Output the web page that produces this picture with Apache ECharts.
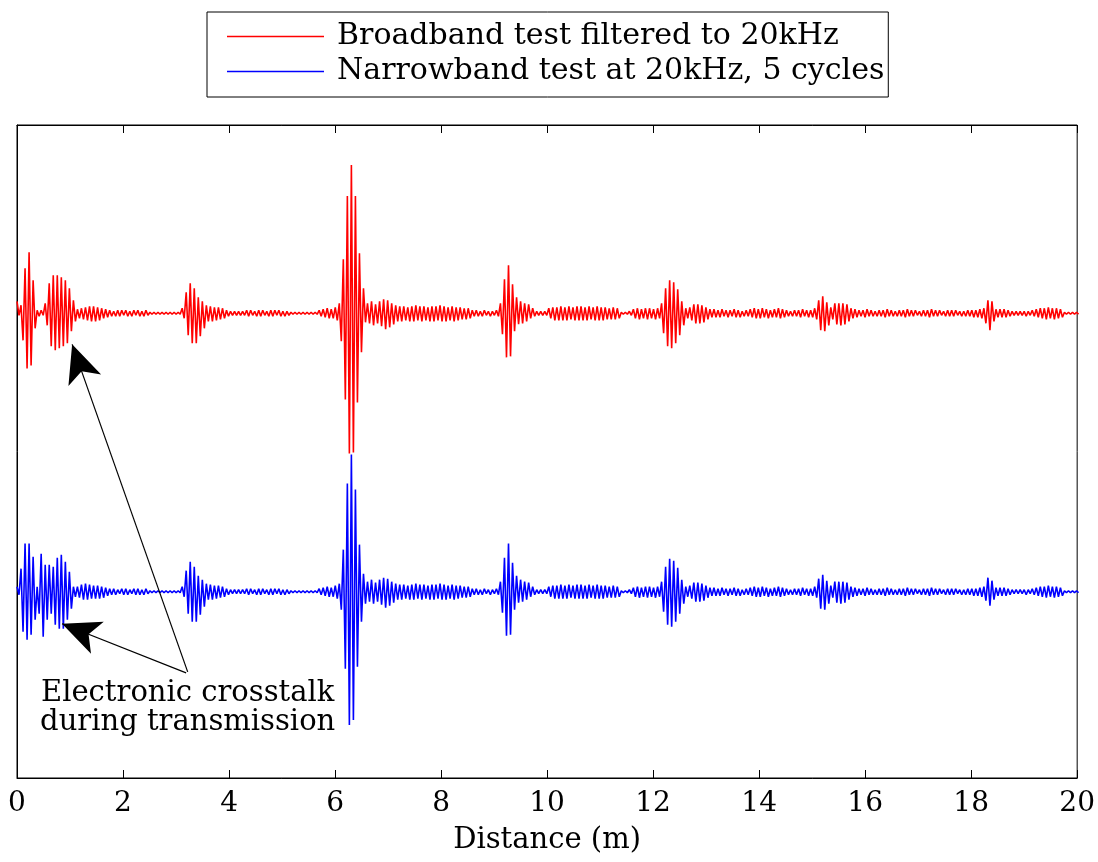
<!DOCTYPE html>
<html>
<head>
<meta charset="utf-8">
<script src="https://cdn.jsdelivr.net/npm/echarts@6/dist/echarts.min.js"></script>
<style>
html,body{margin:0;padding:0;background:#fff;}
#chart{width:1098px;height:862px;}
</style>
</head>
<body>
<div id="chart"></div>
<script>
// ---- data (amplitudes, arbitrary units) ----
const xTicks = [0, 2, 4, 6, 8, 10, 12, 14, 16, 18, 20];
const cycleStep = 0.076;           // distance between successive cycles (m)
const redOffset = 138;             // vertical offset of the red trace
const blueOffset = -140;           // vertical offset of the blue trace
const seriesNames = ['Broadband test filtered to 20kHz', 'Narrowband test at 20kHz, 5 cycles'];

// upper / lower peak of every cycle, red trace
const redUp = [
 12, 8, 45, 61, 33, 3, 3, 10, 30, 38,
 38, 36, 33, 25, 13, 4, 5, 6, 7, 7,
 6, 5, 4, 3, 2, 3, 3, 3, 2, 3,
 3, 2, 3, 1, 1, 1, 1, 1, 1, 1,
 1, 5, 21, 30, 25, 16, 12, 8, 7, 6,
 6, 5, 3, 2, 2, 2, 2, 3, 3, 2,
 3, 3, 2, 3, 3, 3, 2, 2, 1, 1,
 1, 1, 1, 1, 1, 3, 4, 5, 4, 6,
 10, 54, 117, 148, 117, 60, 25, 10, 12, 9,
 12, 14, 13, 10, 8, 7, 7, 6, 7, 8,
 7, 7, 6, 7, 7, 8, 7, 6, 7, 6,
 6, 5, 5, 3, 3, 2, 3, 2, 2, 3,
 10, 34, 48, 29, 16, 12, 10, 9, 5, 2,
 2, 2, 5, 6, 6, 7, 6, 7, 6, 7,
 7, 6, 7, 6, 7, 6, 6, 5, 6, 5,
 1, 1, 2, 4, 5, 4, 5, 5, 4, 5,
 10, 25, 33, 31, 24, 12, 5, 6, 9, 9,
 8, 6, 4, 4, 3, 4, 3, 3, 4, 3,
 2, 3, 4, 5, 4, 5, 4, 3, 4, 5,
 4, 3, 2, 3, 3, 4, 3, 3, 5, 13,
 17, 11, 6, 10, 10, 10, 9, 5, 4, 3,
 3, 4, 3, 2, 3, 3, 4, 3, 2, 3,
 3, 4, 3, 3, 2, 3, 3, 4, 3, 3,
 2, 3, 3, 3, 2, 2, 3, 3, 3, 4,
 5, 13, 12, 4, 4, 4, 3, 2, 2, 2,
 2, 2, 3, 4, 5, 5, 6, 5, 5, 4,
 1, 1, 1, 1
];
const redDown = [
 2, 27, 55, 52, 15, 3, 2, 12, 33, 37,
 35, 33, 30, 18, 8, 5, 6, 7, 8, 8,
 7, 5, 4, 3, 3, 3, 2, 3, 3, 2,
 3, 3, 2, 1, 1, 1, 1, 1, 1, 1,
 1, 5, 22, 30, 30, 23, 15, 8, 8, 7,
 6, 5, 3, 2, 2, 2, 2, 3, 2, 3,
 3, 2, 3, 3, 2, 3, 3, 2, 1, 1,
 1, 1, 1, 1, 1, 3, 4, 5, 5, 7,
 28, 86, 140, 139, 89, 39, 9, 10, 12, 10,
 13, 16, 14, 11, 8, 8, 7, 8, 8, 7,
 8, 7, 8, 8, 7, 8, 8, 7, 8, 7,
 6, 6, 5, 3, 3, 3, 2, 3, 2, 3,
 21, 44, 43, 18, 11, 10, 8, 5, 3, 2,
 2, 2, 5, 7, 7, 7, 7, 6, 7, 7,
 7, 7, 6, 7, 7, 7, 6, 6, 6, 5,
 1, 1, 2, 5, 6, 5, 6, 5, 6, 5,
 20, 33, 35, 30, 22, 12, 5, 7, 10, 10,
 9, 6, 4, 4, 4, 3, 4, 3, 4, 4,
 3, 3, 4, 5, 5, 4, 5, 4, 4, 5,
 4, 3, 3, 3, 4, 3, 4, 4, 6, 17,
 18, 12, 6, 11, 12, 11, 8, 5, 4, 3,
 4, 3, 3, 3, 3, 4, 3, 3, 3, 3,
 4, 3, 3, 2, 3, 3, 4, 3, 3, 2,
 3, 3, 3, 2, 3, 3, 3, 4, 4, 5,
 10, 17, 8, 4, 4, 4, 3, 2, 2, 2,
 3, 2, 3, 4, 5, 6, 5, 6, 5, 4,
 1, 1, 1, 1
];

// upper / lower peak of every cycle, blue trace
const blueUp = [
 5, 23, 48, 48, 35, 5, 38, 27, 27, 25,
 34, 37, 30, 20, 5, 5, 7, 8, 7, 6,
 6, 5, 4, 3, 3, 2, 3, 3, 2, 3,
 3, 2, 3, 1, 1, 1, 1, 1, 1, 1,
 1, 5, 21, 30, 25, 16, 12, 8, 7, 6,
 6, 5, 3, 2, 2, 2, 2, 3, 3, 2,
 3, 3, 2, 3, 3, 3, 2, 2, 1, 1,
 1, 1, 1, 1, 1, 3, 4, 5, 4, 6,
 8, 42, 108, 137, 102, 47, 18, 10, 12, 9,
 12, 14, 13, 10, 8, 7, 7, 6, 7, 8,
 7, 7, 6, 7, 7, 8, 7, 6, 7, 6,
 6, 5, 5, 3, 3, 2, 3, 2, 2, 3,
 10, 34, 48, 29, 16, 12, 10, 9, 5, 2,
 2, 2, 5, 6, 6, 7, 6, 7, 6, 7,
 7, 6, 7, 6, 7, 6, 6, 5, 6, 5,
 1, 1, 2, 4, 5, 4, 5, 5, 4, 5,
 10, 25, 33, 31, 24, 12, 5, 6, 9, 9,
 8, 6, 4, 4, 3, 4, 3, 3, 4, 3,
 2, 3, 4, 5, 4, 5, 4, 3, 4, 5,
 4, 3, 2, 3, 3, 4, 3, 3, 5, 13,
 17, 11, 6, 10, 10, 10, 9, 5, 4, 3,
 3, 4, 3, 2, 3, 3, 4, 3, 2, 3,
 3, 4, 3, 3, 2, 3, 3, 4, 3, 3,
 2, 3, 3, 3, 2, 2, 3, 3, 3, 4,
 5, 14, 11, 4, 4, 4, 3, 2, 2, 2,
 2, 2, 3, 4, 5, 5, 6, 5, 5, 4,
 1, 1, 1, 1
];
const blueDown = [
 3, 40, 48, 43, 28, 22, 45, 28, 22, 33,
 37, 37, 28, 17, 5, 6, 8, 8, 7, 7,
 7, 6, 4, 3, 3, 2, 3, 3, 2, 3,
 3, 3, 2, 1, 1, 1, 1, 1, 1, 1,
 1, 5, 22, 30, 30, 23, 15, 8, 8, 7,
 6, 5, 3, 2, 2, 2, 2, 3, 2, 3,
 3, 2, 3, 3, 2, 3, 3, 2, 1, 1,
 1, 1, 1, 1, 1, 3, 4, 5, 5, 7,
 18, 77, 133, 128, 75, 30, 12, 10, 12, 10,
 13, 16, 14, 11, 8, 8, 7, 8, 8, 7,
 8, 7, 8, 8, 7, 8, 8, 7, 8, 7,
 6, 6, 5, 3, 3, 3, 2, 3, 2, 3,
 21, 44, 43, 18, 11, 10, 8, 5, 3, 2,
 2, 2, 5, 7, 7, 7, 7, 6, 7, 7,
 7, 7, 6, 7, 7, 7, 6, 6, 6, 5,
 1, 1, 2, 5, 6, 5, 6, 5, 6, 5,
 20, 33, 35, 30, 22, 12, 5, 7, 10, 10,
 9, 6, 4, 4, 4, 3, 4, 3, 4, 4,
 3, 3, 4, 5, 5, 4, 5, 4, 4, 5,
 4, 3, 3, 3, 4, 3, 4, 4, 6, 17,
 18, 12, 6, 11, 12, 11, 8, 5, 4, 3,
 4, 3, 3, 3, 3, 4, 3, 3, 3, 3,
 4, 3, 3, 2, 3, 3, 4, 3, 3, 2,
 3, 3, 3, 2, 3, 3, 3, 4, 4, 5,
 9, 14, 8, 4, 4, 4, 3, 2, 2, 2,
 3, 2, 3, 4, 5, 6, 5, 6, 5, 4,
 1, 1, 1, 1
];

// annotation (data coordinates)
const noteText = 'Electronic crosstalk\nduring transmission';
const notePos = [3.22, -256];
const arrowRed = [[3.22, -220], [1.04, 107]];
const arrowBlue = [[3.19, -221], [0.85, -172]];

// ---- build traces ----
function buildTrace(up, down, offset) {
  const pts = [];
  for (let k = 0; k < up.length; k++) {
    pts.push([k * cycleStep, offset + up[k]]);
    pts.push([k * cycleStep + cycleStep / 2, offset - down[k]]);
  }
  return pts;
}

const FONT = 'DejaVu Serif';
const chart = echarts.init(document.getElementById('chart'), null, {renderer: 'canvas'});

const arrowLine = {color: '#000', width: 1.2, type: 'solid'};
const option = {
  backgroundColor: '#fff',
  animation: false,
  textStyle: {fontFamily: FONT},
  legend: {
    orient: 'vertical',
    left: 207,
    top: 12,
    padding: [7, 4, 8, 20],
    itemGap: 0,
    itemWidth: 97,
    itemHeight: 1.5,
    icon: 'rect',
    backgroundColor: '#fff',
    borderColor: '#000',
    borderWidth: 1,
    textStyle: {fontFamily: FONT, fontSize: 30, color: '#000', lineHeight: 35, padding: [0, 0, 0, 8]},
    data: seriesNames
  },
  grid: {left: 17, right: 20, top: 125, bottom: 84, show: true, borderColor: '#000', borderWidth: 1, backgroundColor: 'transparent'},
  xAxis: [{
    type: 'value', min: 0, max: 20, interval: 2,
    name: 'Distance (m)', nameLocation: 'middle', nameGap: 48,
    nameTextStyle: {fontFamily: FONT, fontSize: 29, color: '#000'},
    axisLine: {show: true, onZero: false, lineStyle: {color: '#000', width: 1}},
    axisTick: {show: true, inside: true, length: 8, lineStyle: {color: '#000'}},
    axisLabel: {fontFamily: FONT, fontSize: 28, color: '#000', margin: 12,
      formatter: v => xTicks.includes(v) ? String(v) : ''},
    splitLine: {show: false}
  }, {
    type: 'value', min: 0, max: 20, interval: 2, position: 'top',
    axisLine: {show: true, onZero: false, lineStyle: {color: '#000', width: 1}},
    axisTick: {show: true, inside: true, length: 8, lineStyle: {color: '#000'}},
    axisLabel: {show: false},
    splitLine: {show: false}
  }],
  yAxis: {
    type: 'value', min: -326, max: 326,
    axisLine: {show: true, lineStyle: {color: '#000'}},
    axisTick: {show: false}, axisLabel: {show: false}, splitLine: {show: false}
  },
  series: [{
    name: seriesNames[0], type: 'line', xAxisIndex: 0,
    data: buildTrace(redUp, redDown, redOffset),
    showSymbol: false, symbol: 'none', clip: true,
    lineStyle: {color: '#ff0000', width: 1.6}, itemStyle: {color: '#ff0000'},
    silent: true
  }, {
    name: seriesNames[1], type: 'line', xAxisIndex: 0,
    data: buildTrace(blueUp, blueDown, blueOffset),
    showSymbol: false, symbol: 'none', clip: true,
    lineStyle: {color: '#0000ff', width: 1.6}, itemStyle: {color: '#0000ff'},
    silent: true,
    markLine: {
      silent: true, animation: false,
      symbol: ['none', 'arrow'], symbolSize: [26, 38],
      lineStyle: arrowLine,
      label: {show: false},
      emphasis: {disabled: true},
      data: [
        [{coord: arrowRed[0], lineStyle: arrowLine, itemStyle: {color: '#000'}}, {coord: arrowRed[1]}],
        [{coord: arrowBlue[0], lineStyle: arrowLine, itemStyle: {color: '#000'}}, {coord: arrowBlue[1]}]
      ]
    },
    markPoint: {
      silent: true, animation: false,
      symbol: 'circle', symbolSize: 1, itemStyle: {color: 'rgba(0,0,0,0)'},
      label: {show: true, position: 'inside', formatter: noteText,
        fontFamily: FONT, fontSize: 29, lineHeight: 29, color: '#000', align: 'center', backgroundColor: '#fff'},
      data: [{coord: notePos}]
    }
  }]
};
chart.setOption(option);
</script>
</body>
</html>
